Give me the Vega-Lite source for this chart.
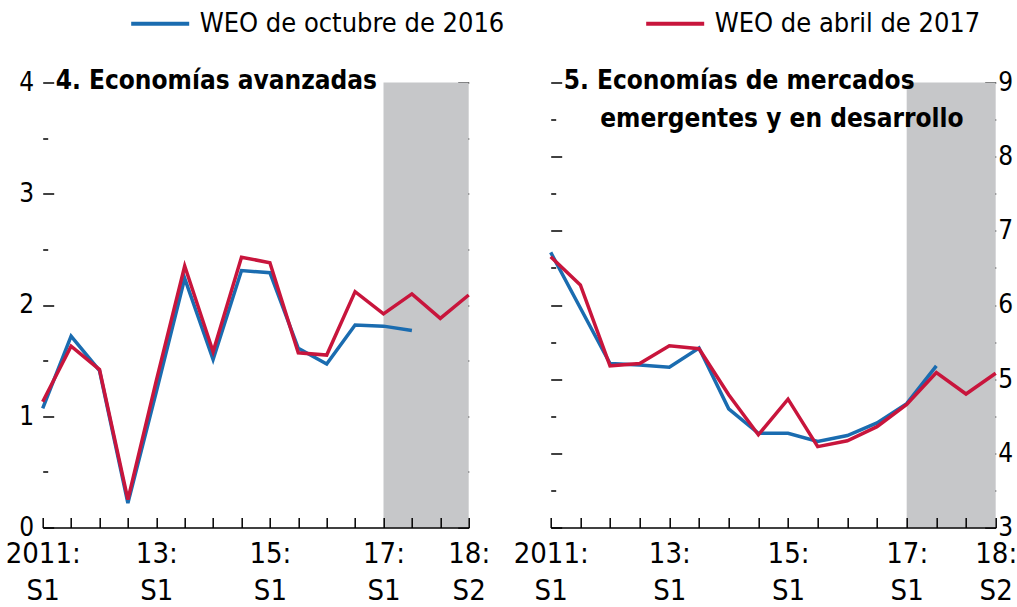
{
  "$schema": "https://vega.github.io/schema/vega-lite/v6.json",
  "padding": {"left": 4.7, "top": 6.5, "right": 0, "bottom": 0},
  "bounds": "flush",
  "spacing": 82,
  "datasets": {
    "adv": [
      {"period": "2011:S1", "series": "WEO de octubre de 2016", "value": 1.07},
      {"period": "2011:S2", "series": "WEO de octubre de 2016", "value": 1.72},
      {"period": "2012:S1", "series": "WEO de octubre de 2016", "value": 1.41},
      {"period": "2012:S2", "series": "WEO de octubre de 2016", "value": 0.22},
      {"period": "2013:S1", "series": "WEO de octubre de 2016", "value": 1.22},
      {"period": "2013:S2", "series": "WEO de octubre de 2016", "value": 2.24},
      {"period": "2014:S1", "series": "WEO de octubre de 2016", "value": 1.51},
      {"period": "2014:S2", "series": "WEO de octubre de 2016", "value": 2.31},
      {"period": "2015:S1", "series": "WEO de octubre de 2016", "value": 2.29},
      {"period": "2015:S2", "series": "WEO de octubre de 2016", "value": 1.61},
      {"period": "2016:S1", "series": "WEO de octubre de 2016", "value": 1.47},
      {"period": "2016:S2", "series": "WEO de octubre de 2016", "value": 1.82},
      {"period": "2017:S1", "series": "WEO de octubre de 2016", "value": 1.81},
      {"period": "2017:S2", "series": "WEO de octubre de 2016", "value": 1.77},
      {"period": "2011:S1", "series": "WEO de abril de 2017", "value": 1.13},
      {"period": "2011:S2", "series": "WEO de abril de 2017", "value": 1.63},
      {"period": "2012:S1", "series": "WEO de abril de 2017", "value": 1.42},
      {"period": "2012:S2", "series": "WEO de abril de 2017", "value": 0.25},
      {"period": "2013:S1", "series": "WEO de abril de 2017", "value": 1.32},
      {"period": "2013:S2", "series": "WEO de abril de 2017", "value": 2.35},
      {"period": "2014:S1", "series": "WEO de abril de 2017", "value": 1.58},
      {"period": "2014:S2", "series": "WEO de abril de 2017", "value": 2.43},
      {"period": "2015:S1", "series": "WEO de abril de 2017", "value": 2.38},
      {"period": "2015:S2", "series": "WEO de abril de 2017", "value": 1.57},
      {"period": "2016:S1", "series": "WEO de abril de 2017", "value": 1.55},
      {"period": "2016:S2", "series": "WEO de abril de 2017", "value": 2.12},
      {"period": "2017:S1", "series": "WEO de abril de 2017", "value": 1.92},
      {"period": "2017:S2", "series": "WEO de abril de 2017", "value": 2.10},
      {"period": "2018:S1", "series": "WEO de abril de 2017", "value": 1.88},
      {"period": "2018:S2", "series": "WEO de abril de 2017", "value": 2.09}
    ],
    "eme": [
      {"period": "2011:S1", "series": "WEO de octubre de 2016", "value": 6.71},
      {"period": "2011:S2", "series": "WEO de octubre de 2016", "value": 5.96},
      {"period": "2012:S1", "series": "WEO de octubre de 2016", "value": 5.21},
      {"period": "2012:S2", "series": "WEO de octubre de 2016", "value": 5.19},
      {"period": "2013:S1", "series": "WEO de octubre de 2016", "value": 5.16},
      {"period": "2013:S2", "series": "WEO de octubre de 2016", "value": 5.42},
      {"period": "2014:S1", "series": "WEO de octubre de 2016", "value": 4.60},
      {"period": "2014:S2", "series": "WEO de octubre de 2016", "value": 4.27},
      {"period": "2015:S1", "series": "WEO de octubre de 2016", "value": 4.27},
      {"period": "2015:S2", "series": "WEO de octubre de 2016", "value": 4.16},
      {"period": "2016:S1", "series": "WEO de octubre de 2016", "value": 4.24},
      {"period": "2016:S2", "series": "WEO de octubre de 2016", "value": 4.41},
      {"period": "2017:S1", "series": "WEO de octubre de 2016", "value": 4.67},
      {"period": "2017:S2", "series": "WEO de octubre de 2016", "value": 5.18},
      {"period": "2011:S1", "series": "WEO de abril de 2017", "value": 6.65},
      {"period": "2011:S2", "series": "WEO de abril de 2017", "value": 6.27},
      {"period": "2012:S1", "series": "WEO de abril de 2017", "value": 5.18},
      {"period": "2012:S2", "series": "WEO de abril de 2017", "value": 5.21},
      {"period": "2013:S1", "series": "WEO de abril de 2017", "value": 5.45},
      {"period": "2013:S2", "series": "WEO de abril de 2017", "value": 5.41},
      {"period": "2014:S1", "series": "WEO de abril de 2017", "value": 4.79},
      {"period": "2014:S2", "series": "WEO de abril de 2017", "value": 4.25},
      {"period": "2015:S1", "series": "WEO de abril de 2017", "value": 4.73},
      {"period": "2015:S2", "series": "WEO de abril de 2017", "value": 4.09},
      {"period": "2016:S1", "series": "WEO de abril de 2017", "value": 4.17},
      {"period": "2016:S2", "series": "WEO de abril de 2017", "value": 4.36},
      {"period": "2017:S1", "series": "WEO de abril de 2017", "value": 4.66},
      {"period": "2017:S2", "series": "WEO de abril de 2017", "value": 5.09},
      {"period": "2018:S1", "series": "WEO de abril de 2017", "value": 4.80},
      {"period": "2018:S2", "series": "WEO de abril de 2017", "value": 5.08}
    ],
    "shade": [{"start": "2017:S1", "end": "2018:S2"}]
  },
  "config": {
    "view": {"stroke": null},
    "font": "DejaVu Sans Condensed",
    "axis": {
      "labelFont": "DejaVu Sans Condensed",
      "labelColor": "black",
      "tickColor": "black",
      "tickWidth": 1.5,
      "domainColor": "black",
      "domainWidth": 1.5,
      "grid": false,
      "title": null
    },
    "title": {"font": "DejaVu Sans Condensed", "fontWeight": "bold", "fontSize": 26, "color": "black"},
    "legend": {
      "orient": "none",
      "legendX": 101,
      "legendY": -75.5,
      "direction": "horizontal",
      "symbolType": "M-2,0H2",
      "symbolSize": 841,
      "symbolStrokeWidth": 4,
      "labelFont": "DejaVu Sans Condensed",
      "labelFontSize": 27,
      "labelColor": "black",
      "labelLimit": 0,
      "labelOffset": 23,
      "columnPadding": 133,
      "padding": 0,
      "title": null
    }
  },
  "hconcat": [
    {
      "width": 426,
      "height": 445,
      "title": {"text": "4. Economías avanzadas", "anchor": "start", "frame": "group", "baseline": "alphabetic", "offset": 0, "dx": 13, "dy": 45},
      "layer": [
        {
          "data": {"name": "shade"},
          "mark": {"type": "rect", "color": "#c6c7c9"},
          "encoding": {
            "x": {"field": "start", "type": "ordinal", "scale": {"type": "point", "padding": 0, "domain": ["2011:S1","2011:S2","2012:S1","2012:S2","2013:S1","2013:S2","2014:S1","2014:S2","2015:S1","2015:S2","2016:S1","2016:S2","2017:S1","2017:S2","2018:S1","2018:S2"]},
                  "axis": {"orient": "bottom", "tickSize": -10, "labelAngle": 0, "labelFontSize": 29, "labelBaseline": "top", "labelLineHeight": 37, "labelPadding": 22, "labelOverlap": false, "labelFlush": false, "labelBound": false,
                           "labelExpr": "datum.value == '2011:S1' ? ['2011:', 'S1'] : datum.value == '2013:S1' ? ['13:', 'S1'] : datum.value == '2015:S1' ? ['15:', 'S1'] : datum.value == '2017:S1' ? ['17:', 'S1'] : datum.value == '2018:S2' ? ['18:', 'S2'] : ''"}},
            "x2": {"field": "end"},
            "y": {"datum": 4, "type": "quantitative", "scale": {"domain": [0, 4], "nice": false, "zero": false},
                  "axis": {"orient": "right", "values": [0,0.5,1,1.5,2,2.5,3,3.5,4], "labels": false, "domain": false,
                           "tickSize": {"condition": {"test": "datum.value % 1 === 0", "value": -11}, "value": -5}}},
            "y2": {"datum": 0}
          }
        },
        {
          "data": {"name": "adv"},
          "mark": {"type": "line", "strokeWidth": 3.5},
          "encoding": {
            "x": {"field": "period", "type": "ordinal", "scale": {"type": "point", "padding": 0, "domain": ["2011:S1","2011:S2","2012:S1","2012:S2","2013:S1","2013:S2","2014:S1","2014:S2","2015:S1","2015:S2","2016:S1","2016:S2","2017:S1","2017:S2","2018:S1","2018:S2"]},
                  "axis": {"orient": "bottom", "tickSize": -10, "labelAngle": 0, "labelFontSize": 29, "labelBaseline": "top", "labelLineHeight": 37, "labelPadding": 22, "labelOverlap": false, "labelFlush": false, "labelBound": false,
                           "labelExpr": "datum.value == '2011:S1' ? ['2011:', 'S1'] : datum.value == '2013:S1' ? ['13:', 'S1'] : datum.value == '2015:S1' ? ['15:', 'S1'] : datum.value == '2017:S1' ? ['17:', 'S1'] : datum.value == '2018:S2' ? ['18:', 'S2'] : ''"}},
            "y": {"field": "value", "type": "quantitative", "scale": {"domain": [0, 4], "nice": false, "zero": false},
                  "axis": {"orient": "left", "values": [0,0.5,1,1.5,2,2.5,3,3.5,4], "domain": false, "labelFontSize": 26, "labelPadding": 20,
                           "labelExpr": "datum.value % 1 === 0 ? format(datum.value, 'd') : ''",
                           "tickSize": {"condition": {"test": "datum.value % 1 === 0", "value": -11}, "value": -5}}},
            "color": {"field": "series", "type": "nominal", "scale": {"domain": ["WEO de octubre de 2016", "WEO de abril de 2017"], "range": ["#1a6cb0", "#c8153c"]}, "legend": {"orient": "none"}}
          }
        }
      ]
    },
    {
      "width": 445,
      "height": 445,
      "title": {"text": ["5. Economías de mercados", "\u2800\u2800emergentes y en desarrollo"], "anchor": "start", "frame": "group", "baseline": "alphabetic", "lineHeight": 39, "offset": 0, "dx": 13, "dy": 84},
      "layer": [
        {
          "data": {"name": "shade"},
          "mark": {"type": "rect", "color": "#c6c7c9"},
          "encoding": {
            "x": {"field": "start", "type": "ordinal", "scale": {"type": "point", "padding": 0, "domain": ["2011:S1","2011:S2","2012:S1","2012:S2","2013:S1","2013:S2","2014:S1","2014:S2","2015:S1","2015:S2","2016:S1","2016:S2","2017:S1","2017:S2","2018:S1","2018:S2"]},
                  "axis": {"orient": "bottom", "tickSize": -10, "labelAngle": 0, "labelFontSize": 29, "labelBaseline": "top", "labelLineHeight": 37, "labelPadding": 22, "labelOverlap": false, "labelFlush": false, "labelBound": false,
                           "labelExpr": "datum.value == '2011:S1' ? ['2011:', 'S1'] : datum.value == '2013:S1' ? ['13:', 'S1'] : datum.value == '2015:S1' ? ['15:', 'S1'] : datum.value == '2017:S1' ? ['17:', 'S1'] : datum.value == '2018:S2' ? ['18:', 'S2'] : ''"}},
            "x2": {"field": "end"},
            "y": {"datum": 9, "type": "quantitative", "scale": {"domain": [3, 9], "nice": false, "zero": false},
                  "axis": {"orient": "left", "values": [3,3.5,4,4.5,5,5.5,6,6.5,7,7.5,8,8.5,9], "labels": false, "domain": false,
                           "tickSize": {"condition": {"test": "datum.value % 1 === 0", "value": -11}, "value": -5}}},
            "y2": {"datum": 3}
          }
        },
        {
          "data": {"name": "eme"},
          "mark": {"type": "line", "strokeWidth": 3.5},
          "encoding": {
            "x": {"field": "period", "type": "ordinal", "scale": {"type": "point", "padding": 0, "domain": ["2011:S1","2011:S2","2012:S1","2012:S2","2013:S1","2013:S2","2014:S1","2014:S2","2015:S1","2015:S2","2016:S1","2016:S2","2017:S1","2017:S2","2018:S1","2018:S2"]},
                  "axis": {"orient": "bottom", "tickSize": -10, "labelAngle": 0, "labelFontSize": 29, "labelBaseline": "top", "labelLineHeight": 37, "labelPadding": 22, "labelOverlap": false, "labelFlush": false, "labelBound": false,
                           "labelExpr": "datum.value == '2011:S1' ? ['2011:', 'S1'] : datum.value == '2013:S1' ? ['13:', 'S1'] : datum.value == '2015:S1' ? ['15:', 'S1'] : datum.value == '2017:S1' ? ['17:', 'S1'] : datum.value == '2018:S2' ? ['18:', 'S2'] : ''"}},
            "y": {"field": "value", "type": "quantitative", "scale": {"domain": [3, 9], "nice": false, "zero": false},
                  "axis": {"orient": "right", "values": [3,3.5,4,4.5,5,5.5,6,6.5,7,7.5,8,8.5,9], "domain": false, "labelFontSize": 26, "labelPadding": 13,
                           "labelExpr": "datum.value % 1 === 0 ? format(datum.value, 'd') : ''",
                           "tickSize": {"condition": {"test": "datum.value % 1 === 0", "value": -11}, "value": -5}}},
            "color": {"field": "series", "type": "nominal", "scale": {"domain": ["WEO de octubre de 2016", "WEO de abril de 2017"], "range": ["#1a6cb0", "#c8153c"]}, "legend": {"orient": "none"}}
          }
        }
      ]
    }
  ]
}
